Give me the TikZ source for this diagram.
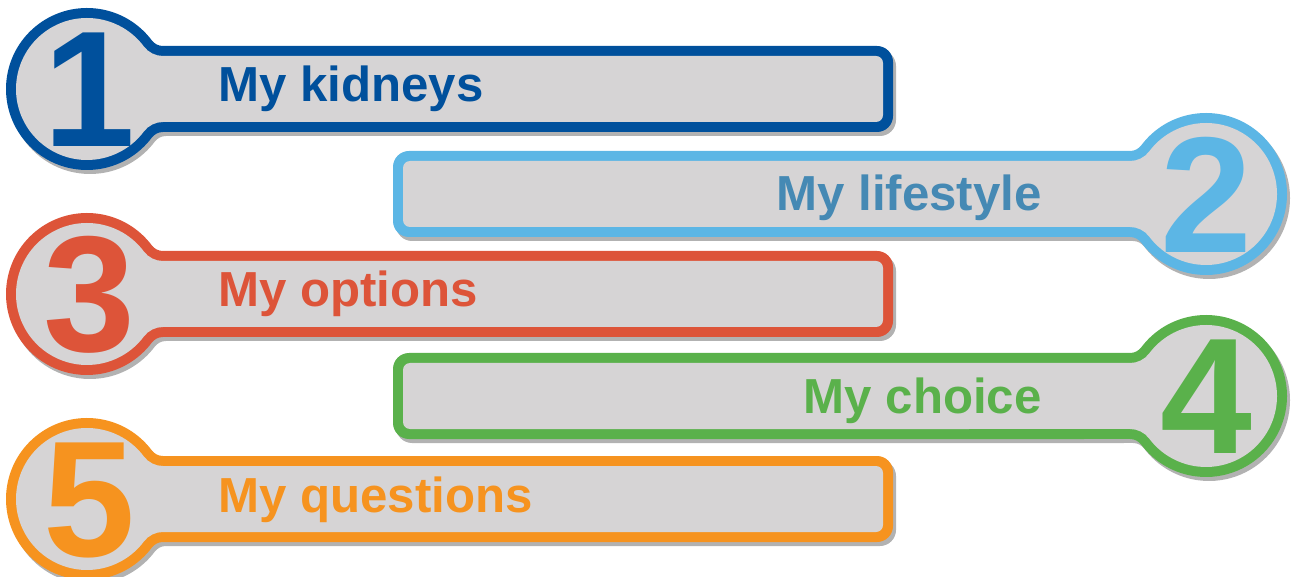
\documentclass[tikz,border=0pt]{standalone}
\usepackage{fontspec}
\setmainfont{Liberation Sans}
\definecolor{cblue}{HTML}{00509C}
\definecolor{clight}{HTML}{5CB6E5}
\definecolor{csteel}{HTML}{4589B4}
\definecolor{cred}{HTML}{DD5439}
\definecolor{cgreen}{HTML}{5AB14B}
\definecolor{corange}{HTML}{F6931F}
\definecolor{cgray}{HTML}{D6D4D5}

% circle + bar outline: radius, half height, fillet, length, corner, path command
\newcommand{\badge}[6]{%
  \pgfmathsetmacro{\bd}{sqrt((#1+#3)^2-(#2+#3)^2)}%
  \pgfmathsetmacro{\ba}{atan2(#2+#3,\bd)}%
  #6 (\ba:#1) arc[start angle=180+\ba, end angle=270, radius=#3]
    -- (#4-#5,#2) arc[start angle=90, end angle=0, radius=#5]
    -- (#4,-#2+#5) arc[start angle=0, end angle=-90, radius=#5]
    -- (\bd,-#2) arc[start angle=90, end angle=180-\ba, radius=#3]
    arc[start angle=-\ba, end angle=-360+\ba, radius=#1] -- cycle;}

\tikzset{
  itemtext/.style={font=\bfseries\fontsize{28}{30}\selectfont, inner sep=0},
  bignum/.style={font=\bfseries\fontsize{94}{94}\selectfont, inner sep=0},
  shade/.style={fill=black, opacity=.3, shift={(3,4)}}
}

\begin{document}
\begin{tikzpicture}[x=0.02cm, y=-0.02cm]
\useasboundingbox (0,0) rectangle (1291,577);

% left badges
\foreach \y/\col/\num/\txt in {89/cblue/1/My kidneys, 294/cred/3/My options, 499/corange/5/My questions} {
  \begin{scope}[shift={(87,\y)}]
    \badge{81}{43}{14}{806}{16}{\fill[shade]}
    \badge{81}{43}{14}{806}{16}{\fill[\col]}
    \badge{71}{33}{24}{796}{7}{\fill[cgray]}
    \begin{scope}
      \badge{71}{33}{24}{796}{7}{\clip}
      \node[bignum, text=\col] (n\num) at (2,1) {\num};
    \end{scope}
    \node[itemtext, text=\col, anchor=base west] (t\num) at (131,13) {\txt};
  \end{scope}
}

% right badges
\foreach \y/\col/\tcol/\num/\txt in {194/clight/csteel/2/My lifestyle, 396/cgreen/cgreen/4/My choice} {
  \begin{scope}[shift={(1206,\y)}]
    \begin{scope}[xscale=-1]
      \badge{81}{43}{14}{813}{16}{\fill[shade, shift={(-6,0)}]}
      \badge{81}{43}{14}{813}{16}{\fill[\col]}
      \badge{71}{33}{24}{803}{7}{\fill[cgray]}
    \end{scope}
    \begin{scope}[xscale=-1]
      \badge{71}{33}{24}{803}{7}{\clip}
      \node[bignum, text=\col] (n\num) at (0,1) {\num};
    \end{scope}
    \node[itemtext, text=\tcol, anchor=base east] (t\num) at (-164,17) {\txt};
  \end{scope}
}
\end{tikzpicture}
\end{document}
